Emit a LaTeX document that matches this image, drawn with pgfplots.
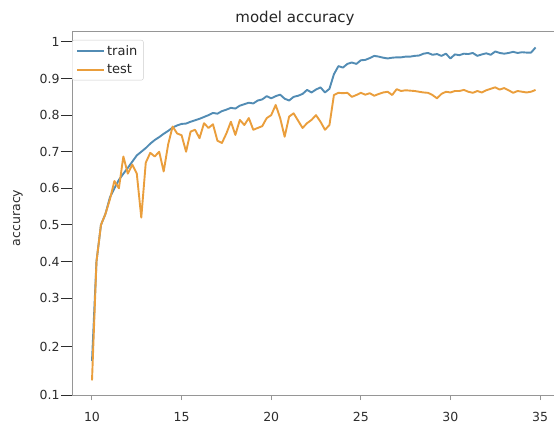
\documentclass[border=0pt]{standalone}
\usepackage{pgfplots}
\usepackage{pgfplotstable}
\pgfplotsset{compat=1.18}
\usepackage{fontspec}
\setmainfont{DejaVu Sans}
\definecolor{trainc}{RGB}{82,140,180}
\definecolor{testc}{RGB}{234,158,60}
\definecolor{spine}{RGB}{150,150,150}
\definecolor{tickc}{RGB}{45,45,45}
\pgfplotstableread{
x train test
10.00 0.170 0.130
10.25 0.400 0.400
10.50 0.500 0.500
10.75 0.530 0.530
11.00 0.575 0.570
11.25 0.600 0.620
11.50 0.623 0.600
11.75 0.640 0.687
12.00 0.656 0.640
12.25 0.673 0.665
12.50 0.690 0.640
12.75 0.700 0.520
13.00 0.710 0.670
13.25 0.722 0.697
13.50 0.732 0.687
13.75 0.740 0.700
14.00 0.749 0.646
14.25 0.757 0.720
14.50 0.766 0.769
14.75 0.772 0.750
15.00 0.776 0.745
15.25 0.777 0.700
15.50 0.782 0.755
15.75 0.786 0.760
16.00 0.790 0.737
16.25 0.795 0.778
16.50 0.800 0.765
16.75 0.806 0.775
17.00 0.804 0.730
17.25 0.811 0.724
17.50 0.815 0.750
17.75 0.820 0.782
18.00 0.818 0.746
18.25 0.826 0.787
18.50 0.830 0.773
18.75 0.834 0.792
19.00 0.832 0.760
19.25 0.840 0.765
19.50 0.843 0.770
19.75 0.852 0.792
20.00 0.846 0.800
20.25 0.852 0.828
20.50 0.856 0.792
20.75 0.845 0.741
21.00 0.840 0.796
21.25 0.850 0.805
21.50 0.853 0.785
21.75 0.858 0.765
22.00 0.869 0.778
22.25 0.862 0.787
22.50 0.870 0.800
22.75 0.876 0.782
23.00 0.862 0.760
23.25 0.872 0.773
23.50 0.912 0.855
23.75 0.934 0.861
24.00 0.930 0.860
24.25 0.940 0.861
24.50 0.944 0.850
24.75 0.940 0.855
25.00 0.950 0.861
25.25 0.951 0.856
25.50 0.956 0.860
25.75 0.962 0.853
26.00 0.960 0.858
26.25 0.957 0.862
26.50 0.955 0.864
26.75 0.957 0.855
27.00 0.958 0.871
27.25 0.958 0.866
27.50 0.960 0.868
27.75 0.960 0.867
28.00 0.962 0.866
28.25 0.963 0.864
28.50 0.968 0.862
28.75 0.970 0.861
29.00 0.965 0.855
29.25 0.967 0.846
29.50 0.962 0.858
29.75 0.968 0.864
30.00 0.955 0.862
30.25 0.966 0.866
30.50 0.964 0.866
30.75 0.968 0.869
31.00 0.967 0.864
31.25 0.970 0.861
31.50 0.962 0.866
31.75 0.966 0.862
32.00 0.969 0.868
32.25 0.965 0.872
32.50 0.974 0.876
32.75 0.970 0.870
33.00 0.968 0.874
33.25 0.970 0.868
33.50 0.973 0.861
33.75 0.970 0.866
34.00 0.972 0.864
34.25 0.971 0.862
34.50 0.971 0.864
34.75 0.985 0.869
}\acc
\begin{document}
\begin{tikzpicture}[x=1pt,y=1pt]
\useasboundingbox (0,0) rectangle (554,429);
\begin{axis}[
  at={(72pt,34pt)}, anchor=south west,
  scale only axis, width=482pt, height=363pt,
  xmin=8.884, xmax=35.78, ymin=0.1, ymax=1.0273,
  y coord trafo/.code={\pgfmathparse{#1<0.3 ? 0.3-(0.3-#1)*1.325 : #1}},
  axis x line*=box, axis y line*=left,
  axis line style={spine, line width=1pt},
  xtick pos=bottom, ytick pos=left,
  tick align=outside,
  major tick length=11pt,
  xtick style={spine, line width=1pt, /pgfplots/major tick length=5pt},
  ytick style={tickc, line width=1pt},
  xtick={10,15,20,25,30,35},
  xticklabels={10,15,20,25,30,35},
  ytick={0.1,0.2,0.3,0.4,0.5,0.6,0.7,0.8,0.9,1},
  yticklabels={0.1,0.2,0.3,0.4,0.5,0.6,0.7,0.8,0.9,1},
  ticklabel style={font=\fontsize{12.5}{14}\selectfont, text=tickc},
  yticklabel style={xshift=2pt},
  xticklabel style={yshift=-3pt},
  ylabel={accuracy},
  every axis y label/.style={at={(axis description cs:-0.112,0.488)}, rotate=90, anchor=center, font=\fontsize{12.5}{14}\selectfont, text=tickc},
  title={model accuracy},
  every axis title/.style={at={(axis description cs:0.4627,1.0386)}, anchor=center, font=\fontsize{15}{17}\selectfont, text=black!85},
  legend style={at={(axis description cs:0.0,0.978)}, anchor=north west, draw=black!20, rounded corners=2pt, font=\fontsize{13}{15}\selectfont, text=black!85, inner xsep=4pt, inner ysep=3pt, row sep=4pt},
  legend cell align=left,
  legend image code/.code={\draw[#1] (0pt,0pt) -- (27pt,0pt);},
  clip=false,
]
\addplot[trainc, line width=1.9pt, line join=round] table[x=x, y=train] {\acc};
\addlegendentry{train}
\addplot[testc, line width=1.9pt, line join=round] table[x=x, y=test] {\acc};
\addlegendentry{test}
\end{axis}
\end{tikzpicture}
\end{document}
